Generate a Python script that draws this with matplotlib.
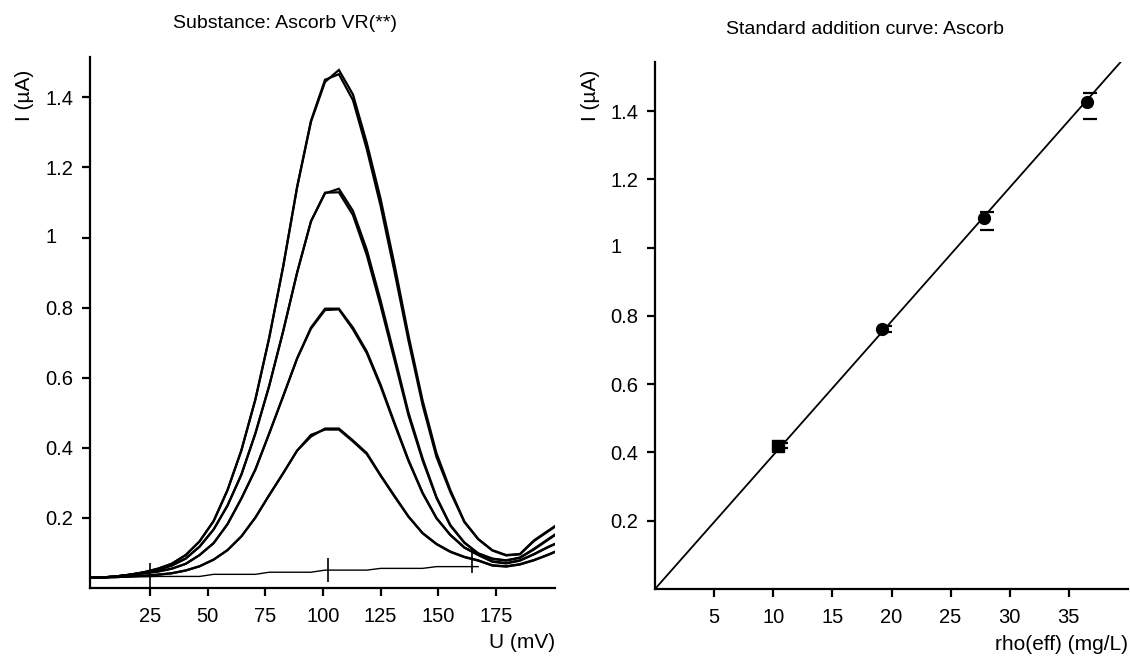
import numpy as np
import matplotlib
matplotlib.use("Agg")
import matplotlib.pyplot as plt
from matplotlib.transforms import ScaledTranslation, blended_transform_factory

plt.rcParams['font.family'] = ['Liberation Sans', 'DejaVu Sans']

# ---------------- data: voltammograms (left) ----------------
U_mV = [-1.8, 4.2, 10.3, 16.3, 22.4, 28.4, 34.4, 40.5, 46.5, 52.6, 58.6, 64.6,
        70.7, 76.7, 82.8, 88.8, 94.8, 100.9, 106.9, 113.0, 119.0, 125.0, 131.1,
        137.1, 143.2, 149.2, 155.2, 161.3, 167.3, 173.4, 179.4, 185.4, 191.5,
        197.5, 203.6]

I_add3_a = [0.030, 0.030, 0.033, 0.038, 0.045, 0.055, 0.069, 0.094, 0.133, 0.191,
            0.279, 0.392, 0.538, 0.714, 0.919, 1.144, 1.330, 1.444, 1.478, 1.408,
            1.270, 1.110, 0.920, 0.720, 0.535, 0.385, 0.280, 0.190, 0.140, 0.108,
            0.094, 0.097, 0.136, 0.163, 0.190]
I_add3_b = [0.030, 0.030, 0.033, 0.038, 0.045, 0.055, 0.069, 0.094, 0.133, 0.191,
            0.279, 0.392, 0.538, 0.714, 0.919, 1.144, 1.333, 1.450, 1.466, 1.392,
            1.252, 1.090, 0.900, 0.705, 0.522, 0.374, 0.274, 0.188, 0.139, 0.107,
            0.093, 0.096, 0.134, 0.161, 0.188]
I_add2_a = [0.030, 0.030, 0.033, 0.038, 0.044, 0.052, 0.064, 0.084, 0.118, 0.167,
            0.235, 0.323, 0.441, 0.577, 0.734, 0.900, 1.046, 1.126, 1.139, 1.076,
            0.965, 0.820, 0.660, 0.500, 0.370, 0.260, 0.180, 0.130, 0.099, 0.084,
            0.079, 0.087, 0.112, 0.139, 0.166]
I_add2_b = [0.030, 0.030, 0.033, 0.038, 0.044, 0.052, 0.064, 0.084, 0.118, 0.167,
            0.235, 0.323, 0.441, 0.577, 0.734, 0.900, 1.046, 1.128, 1.129, 1.064,
            0.950, 0.805, 0.648, 0.492, 0.364, 0.257, 0.178, 0.129, 0.098, 0.083,
            0.078, 0.086, 0.110, 0.137, 0.164]
I_add1_a = [0.030, 0.030, 0.033, 0.037, 0.042, 0.047, 0.055, 0.069, 0.094, 0.128,
            0.182, 0.255, 0.338, 0.441, 0.548, 0.655, 0.743, 0.797, 0.797, 0.743,
            0.675, 0.580, 0.470, 0.365, 0.272, 0.200, 0.152, 0.116, 0.095, 0.076,
            0.071, 0.079, 0.097, 0.117, 0.135]
I_add1_b = [0.030, 0.030, 0.033, 0.037, 0.042, 0.047, 0.055, 0.069, 0.094, 0.128,
            0.182, 0.255, 0.338, 0.441, 0.548, 0.655, 0.740, 0.793, 0.795, 0.738,
            0.670, 0.575, 0.466, 0.362, 0.270, 0.199, 0.151, 0.115, 0.094, 0.075,
            0.070, 0.078, 0.096, 0.116, 0.134]
I_sample_a = [0.030, 0.030, 0.031, 0.033, 0.035, 0.038, 0.042, 0.050, 0.062, 0.081,
              0.108, 0.147, 0.201, 0.265, 0.328, 0.392, 0.432, 0.455, 0.455, 0.421,
              0.385, 0.322, 0.262, 0.204, 0.157, 0.126, 0.104, 0.089, 0.079, 0.065,
              0.062, 0.068, 0.080, 0.095, 0.112]
I_sample_b = [0.030, 0.030, 0.031, 0.033, 0.035, 0.038, 0.042, 0.050, 0.062, 0.081,
              0.108, 0.147, 0.201, 0.265, 0.328, 0.392, 0.437, 0.452, 0.452, 0.418,
              0.382, 0.320, 0.260, 0.203, 0.156, 0.125, 0.103, 0.088, 0.078, 0.064,
              0.061, 0.067, 0.079, 0.094, 0.111]
curves = [I_add3_a, I_add3_b, I_add2_a, I_add2_b, I_add1_a, I_add1_b,
          I_sample_a, I_sample_b]

# baseline (blank) and its marks
U_base = [-1.8, 4.2, 10.3, 16.3, 22.4, 28.4, 34.4, 40.5, 46.5, 52.6, 58.6, 64.6,
          70.7, 76.7, 82.8, 88.8, 94.8, 100.9, 106.9, 113.0, 119.0, 125.0, 131.1,
          137.1, 143.2, 149.2, 155.2, 161.3, 167.3]
I_base = [0.031, 0.031, 0.031, 0.032, 0.032, 0.033, 0.033, 0.033, 0.033, 0.039,
          0.039, 0.039, 0.039, 0.045, 0.045, 0.045, 0.045, 0.051, 0.051, 0.051,
          0.051, 0.056, 0.056, 0.056, 0.056, 0.061, 0.061, 0.061, 0.061]
mark_U = [25, 102, 164.5]
mark_lo = [-0.006, 0.016, 0.044]
mark_hi = [0.070, 0.087, 0.111]

left_xticks = [25, 50, 75, 100, 125, 150, 175]
yticks = [0.2, 0.4, 0.6, 0.8, 1.0, 1.2, 1.4]
ytick_labels = ['0.2', '0.4', '0.6', '0.8', '', '1.2', '1.4']

# ---------------- data: standard addition (right) ----------------
rho_eff = [10.4, 19.2, 27.8, 36.5]
I_mean = [0.420, 0.762, 1.086, 1.426]
I_err_lo = [0.413, 0.753, 1.053, 1.376]
I_err_hi = [0.427, 0.770, 1.104, 1.454]
right_xticks = [5, 10, 15, 20, 25, 30, 35]

# ---------------- figure ----------------
W, H = 1130, 657
fig = plt.figure(figsize=(W / 100, H / 100), dpi=100)
FS = 14.5

def setup(ax):
    for s in ['top', 'right']:
        ax.spines[s].set_visible(False)
    for s in ['left', 'bottom']:
        ax.spines[s].set_linewidth(1.6)
    ax.tick_params(axis='both', direction='out', length=6, width=1.6,
                   labelsize=FS, colors='black')
    ax.tick_params(axis='x', pad=8)
    ax.tick_params(axis='y', pad=6)
    ax.set_yticks(yticks)
    ax.set_yticklabels(ytick_labels)
    # "1" label left-aligned with the other labels
    tr = blended_transform_factory(ax.transAxes, ax.transData) + \
        ScaledTranslation(-(6 + 6 + 0.834 * FS) / 72, 0, fig.dpi_scale_trans)
    ax.text(0, 1.0, '1', transform=tr, ha='right', va='center', fontsize=FS)

# left axes
ax1 = fig.add_axes([90 / W, (H - 588) / H, 465 / W, (588 - 57) / H])
setup(ax1)
for c in curves:
    ax1.plot(U_mV, c, color='black', lw=1.6, solid_joinstyle='miter')
ax1.plot(U_base, I_base, color='black', lw=1.0)
ax1.vlines(mark_U, mark_lo, mark_hi, color='black', lw=1.2)
ax1.set_xlim(-1, 200.6)
ax1.set_ylim(0, 1.515)
ax1.set_xticks(left_xticks)

# right axes
ax2 = fig.add_axes([655 / W, (H - 589) / H, 473 / W, (589 - 62) / H])
setup(ax2)
x = np.array(rho_eff)
y = np.array(I_mean)
slope = np.sum(x * y) / np.sum(x * x)
xl = np.array([0, 40])
ax2.plot(xl, slope * xl, color='black', lw=1.3)
ax2.plot(rho_eff[:1], I_mean[:1], ls='none', marker='s', ms=8, color='black')
ax2.plot(rho_eff[1:], I_mean[1:], ls='none', marker='o', ms=8.5, color='black')
off = ax2.transData + ScaledTranslation(3 / 100, 0, fig.dpi_scale_trans)
ax2.plot(rho_eff, I_err_lo, ls='none', marker='_', ms=9.6, mew=1.6,
         color='black', transform=off)
ax2.plot(rho_eff, I_err_hi, ls='none', marker='_', ms=9.6, mew=1.6,
         color='black', transform=off)
ax2.set_xlim(0, 40)
ax2.set_ylim(0, 1.544)
ax2.set_xticks(right_xticks)

# titles and labels
fig.text(285 / W, 1 - 24 / H, 'Substance: Ascorb VR(**)', ha='center', va='center', fontsize=14)
fig.text(865 / W, 1 - 29 / H, 'Standard addition curve: Ascorb', ha='center', va='center', fontsize=14)
fig.text(555 / W, 1 - 643 / H, 'U (mV)', ha='right', va='center', fontsize=15)
fig.text(1128 / W, 1 - 645 / H, 'rho(eff) (mg/L)', ha='right', va='center', fontsize=15)
fig.text(25 / W, 1 - 95 / H, 'I (µA)', ha='center', va='center', rotation=90, fontsize=15)
fig.text(590 / W, 1 - 95 / H, 'I (µA)', ha='center', va='center', rotation=90, fontsize=15)

fig.savefig('out.png', dpi=100)
